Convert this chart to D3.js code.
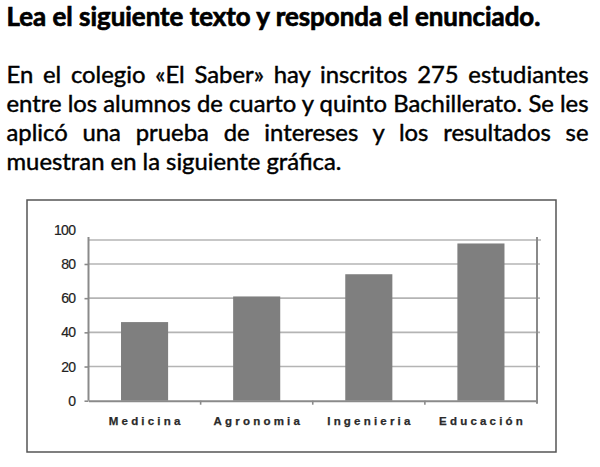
<!DOCTYPE html>
<html>
<head>
<meta charset="utf-8">
<script src="https://cdn.jsdelivr.net/npm/d3@7"></script>
<style>
  html, body { margin: 0; padding: 0; background: #fff; }
  svg { display: block; }
</style>
</head>
<body>
<svg id="page" width="600" height="467"></svg>
<script>
// Survey results: students' interest by career
const categories = ["Medicina", "Agronomia", "Ingenieria", "Educación"];
const values = [46, 61, 74, 92];
const yTicks = [0, 20, 40, 60, 80, 100];
const gridValues = [20, 40, 60, 80];

const titleText = "Lea el siguiente texto y responda el enunciado.";
const paragraphLines = [
  "En el colegio «El Saber» hay inscritos 275 estudiantes",
  "entre los alumnos de cuarto y quinto Bachillerato. Se les",
  "aplicó una prueba de intereses y los resultados se",
  "muestran en la siguiente gráfica."
];

const svg = d3.select("#page");
const textFont = "Lato, 'Open Sans', 'DejaVu Sans', sans-serif";

// ---- heading ----
const textLeft = 6.5, textRight = 588.5;
const title = svg.append("text")
  .attr("x", textLeft).attr("y", 26)
  .attr("font-family", textFont).attr("font-weight", 700)
  .attr("font-size", 22).attr("fill", "#000")
  .attr("stroke", "#000").attr("stroke-width", 0.7)
  .text(titleText);
{
  const w = title.node().getComputedTextLength();
  title.attr("font-size", 22 * 534 / w);
}

// ---- paragraph (justified except for the last line) ----
const baselines = [83.3, 112.3, 140.8, 170];
const probe = svg.append("text").attr("font-family", textFont).attr("font-size", 20).text(paragraphLines[1]);
const bodySize = 20 * (textRight - textLeft) / probe.node().getComputedTextLength();
probe.remove();

paragraphLines.forEach((line, i) => {
  const t = svg.append("text")
    .attr("x", textLeft).attr("y", baselines[i])
    .attr("font-family", textFont).attr("font-size", bodySize)
    .attr("fill", "#000").attr("stroke", "#000").attr("stroke-width", 0.45)
    .text(line);
  if (i < paragraphLines.length - 1) {
    const natural = t.node().getComputedTextLength();
    const gaps = line.split(" ").length - 1;
    const extra = (textRight - textLeft - natural) / gaps;
    t.style("word-spacing", extra + "px");
  }
});

// ---- chart frame ----
const box = { x0: 27, y0: 200, x1: 556, y1: 452 };
svg.append("rect")
  .attr("x", box.x0).attr("y", box.y0)
  .attr("width", box.x1 - box.x0).attr("height", box.y1 - box.y0)
  .attr("fill", "#fff").attr("stroke", "#555").attr("stroke-width", 1.5);

const plot = { left: 88.5, right: 537, top: 240, axisTop: 237 };
const y = d3.scaleLinear().domain([0, 100]).range([400.7, 229.8]);
const x = d3.scaleBand().domain(categories)
  .range([plot.left, plot.right]).paddingInner(0.58).paddingOuter(0.29);

// gridlines
svg.append("g").selectAll("line").data(gridValues).join("line")
  .attr("x1", plot.left).attr("x2", plot.right + 3)
  .attr("y1", d => y(d)).attr("y2", d => y(d))
  .attr("stroke", "#b4b4b4").attr("stroke-width", 1.6);

// top edge of plot area
svg.append("line")
  .attr("x1", plot.left).attr("x2", plot.right + 4)
  .attr("y1", plot.top).attr("y2", plot.top)
  .attr("stroke", "#b4b4b4").attr("stroke-width", 1.6);

// bars
svg.append("g").selectAll("rect").data(values).join("rect")
  .attr("x", (d, i) => x(categories[i]))
  .attr("width", x.bandwidth())
  .attr("y", d => y(d))
  .attr("height", d => y(0) - y(d))
  .attr("fill", "#7f7f7f");

// y axis
const yAxis = d3.axisLeft(y).tickValues(yTicks).tickSize(4).tickPadding(9);
const gy = svg.append("g").attr("transform", `translate(${plot.left},0)`).call(yAxis);
gy.select(".domain").remove();
gy.selectAll(".tick line")
  .attr("stroke", "#8a8a8a").attr("stroke-width", 1.6)
  .filter(d => y(d) < plot.axisTop).remove();
gy.selectAll(".tick text")
  .attr("font-family", "'Liberation Sans', Arial, sans-serif")
  .attr("font-size", 14).attr("fill", "#222")
  .attr("stroke", "#222").attr("stroke-width", 0.2)
  .attr("letter-spacing", "-0.6px");
svg.append("line")
  .attr("x1", plot.left).attr("x2", plot.left)
  .attr("y1", plot.axisTop).attr("y2", y(0))
  .attr("stroke", "#8a8a8a").attr("stroke-width", 2);

// right edge of plot area
svg.append("line")
  .attr("x1", plot.right).attr("x2", plot.right)
  .attr("y1", plot.axisTop).attr("y2", y(0) + 3)
  .attr("stroke", "#8a8a8a").attr("stroke-width", 2);

// x axis with ticks between categories
const gx = svg.append("g").attr("transform", `translate(0,${y(0)})`)
  .call(d3.axisBottom(x).tickSize(0).tickPadding(16));
gx.select(".domain").attr("stroke", "#8a8a8a").attr("stroke-width", 2);
gx.selectAll(".tick text")
  .attr("font-family", "'Liberation Sans', Arial, sans-serif")
  .attr("font-weight", 700).attr("font-size", 11.5)
  .attr("fill", "#2a2a2a").attr("stroke", "#2a2a2a").attr("stroke-width", 0.25)
  .attr("letter-spacing", "3.2px")
  .attr("dx", "1.6px");
const boundaries = categories.slice(1).map(c => x(c) - x.step() * x.paddingInner() / 2);
gx.append("g").selectAll("line").data(boundaries).join("line")
  .attr("x1", d => d).attr("x2", d => d)
  .attr("y1", 0).attr("y2", 4)
  .attr("stroke", "#8a8a8a").attr("stroke-width", 1.6);
</script>
</body>
</html>
